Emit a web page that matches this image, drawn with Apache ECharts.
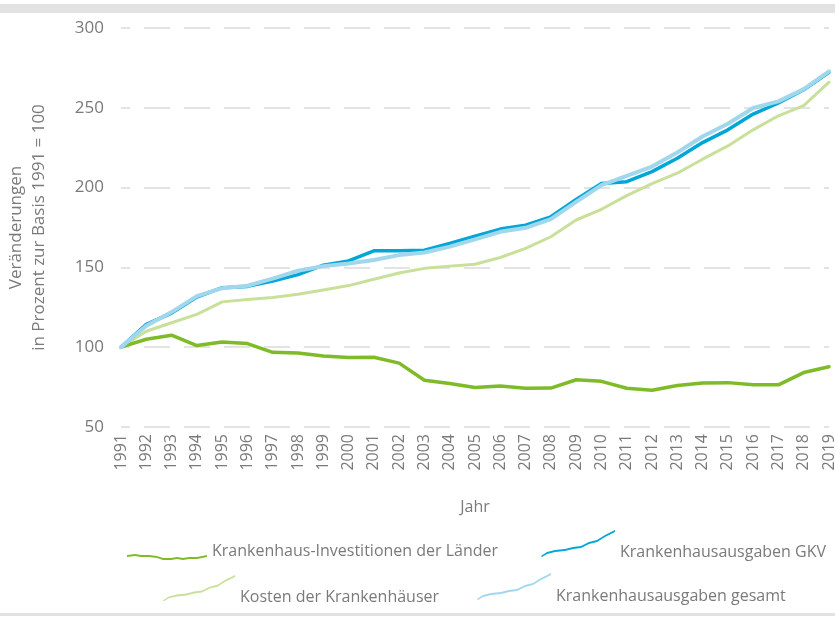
<!DOCTYPE html>
<html>
<head>
<meta charset="utf-8">
<title>Krankenhausausgaben</title>
<script src="https://cdn.jsdelivr.net/npm/echarts@6/dist/echarts.min.js"></script>
<style>
  html, body { margin: 0; padding: 0; background: #fff; }
  #main { width: 835px; height: 618px; }
</style>
</head>
<body>
<div id="main"></div>
<script type="text/javascript">
// Jahre
var years = ["1991", "1992", "1993", "1994", "1995", "1996", "1997", "1998", "1999", "2000",
  "2001", "2002", "2003", "2004", "2005", "2006", "2007", "2008", "2009", "2010",
  "2011", "2012", "2013", "2014", "2015", "2016", "2017", "2018", "2019"];

// Index 1991 = 100
var investitionen = [100, 105, 107.5, 101, 103.3, 102.3, 96.8, 96.3, 94.5, 93.5,
  93.7, 90, 79.3, 77.3, 74.8, 75.7, 74.3, 74.4, 79.6, 78.6,
  74.3, 73, 76, 77.6, 77.8, 76.4, 76.4, 84.1, 87.8];
var ausgabenGKV = [100, 114.3, 121.4, 131.4, 137.3, 138.1, 141.5, 145.5, 151.4, 154.1,
  160.4, 160.5, 160.8, 165, 169.6, 174, 176.4, 181.7, 192.6, 202.6,
  203.7, 210, 218.4, 228.2, 236.2, 246.1, 253, 261.3, 272.2];
var kosten = [100, 110, 115.3, 120.6, 128.4, 129.9, 131.2, 133.2, 135.9, 138.6,
  142.6, 146.5, 149.4, 150.8, 152, 156.2, 161.9, 169.2, 179.7, 186.4,
  195, 202.5, 209, 217.8, 226.1, 236.2, 245, 251.4, 266.1];
var ausgabenGesamt = [100, 113.5, 122, 132, 137, 138.5, 143, 147.9, 150.8, 152.5,
  154.6, 157.7, 159.3, 163, 167.6, 172.3, 174.8, 180.2, 191, 201.6,
  207.3, 213.2, 222, 232, 240, 249.9, 254, 261.7, 272.8];

var names = ["Krankenhaus-Investitionen der Länder", "Krankenhausausgaben GKV",
  "Kosten der Krankenhäuser", "Krankenhausausgaben gesamt"];
var colors = ["#7fbb28", "#00a6d6", "#c9e09b", "#a0d7ed"];

var textColor = "#7a7a7a";
var font = "Open Sans";

// kleine "Kritzel"-Icons fuer die Legende
// flache Linie; Punkt oben, damit die Linie etwas unter dem Text sitzt
var flatIcon = "path://M0,12 L8,11 L14,12 L22,12 L30,13 L36,15 L44,15 L50,14 L56,15 L62,14 L70,14 L80,12 L80,14 L70,16 L62,16 L56,17 L50,16 L44,17 L36,17 L30,15 L22,14 L14,14 L8,13 L0,14 Z" +
  " M79.95,0 L80,0 L80,0.05 Z";
// steigende Linie; der winzige Punkt unten sorgt dafuer, dass der Text tiefer sitzt
function riseIcon(h) {
  return "path://M0,26 L6,22 L14,20 L24,19 L32,17 L40,16 L48,12 L56,10 L64,5 L74,0 L74,2 L64,7 L56,12 L48,14 L40,18 L32,19 L24,21 L14,22 L6,24 L1,27 Z" +
    " M73.95," + h + " L74," + h + " L74," + (h - 0.05) + " Z";
}

function legendItem(name, icon, left, top, w, h) {
  return {
    data: [{ name: name, icon: icon }],
    left: left,
    top: top,
    padding: 0,
    itemWidth: w,
    itemHeight: h,
    selectedMode: false,
    textStyle: { color: textColor, fontFamily: font, fontSize: 16 }
  };
}

function lineSeries(name, data, color, width) {
  return {
    name: name,
    type: "line",
    data: data,
    symbol: "none",
    color: color,
    lineStyle: { color: color, width: width, cap: "round", join: "round" },
    itemStyle: { color: color }
  };
}

var chart = echarts.init(document.getElementById("main"));
var option = {
  backgroundColor: "#fff",
  animation: false,
  textStyle: { fontFamily: font },
  grid: { left: 121, right: 6, top: 28, bottom: 191, outerBoundsMode: "none", containLabel: false },
  graphic: [
    { type: "rect", shape: { x: 0, y: 4, width: 835, height: 9 }, style: { fill: "#e2e2e2" } },
    { type: "rect", shape: { x: 0, y: 613, width: 835, height: 3 }, style: { fill: "#e2e2e2" } }
  ],
  legend: [
    legendItem(names[0], flatIcon, 127, 543, 80, 17),
    legendItem(names[1], riseIcon(44), 541, 530, 74, 44),
    legendItem(names[2], riseIcon(46), 163, 575, 72, 46),
    legendItem(names[3], riseIcon(46), 477, 573, 74, 46)
  ],
  xAxis: {
    type: "category",
    data: years,
    boundaryGap: false,
    name: "Jahr",
    nameLocation: "middle",
    nameGap: 72,
    nameTextStyle: { color: textColor, fontFamily: font, fontSize: 16 },
    axisLine: { show: false },
    axisTick: { show: false },
    axisLabel: { rotate: 90, interval: 0, margin: 7, color: textColor, fontFamily: font, fontSize: 16 }
  },
  yAxis: {
    type: "value",
    min: 50,
    max: 300,
    interval: 50,
    name: "Veränderungen\nin Prozent zur Basis 1991 = 100",
    nameLocation: "middle",
    nameGap: 70,
    nameTextStyle: { color: textColor, fontFamily: font, fontSize: 17, lineHeight: 23 },
    axisLine: { show: false },
    axisTick: { show: false },
    axisLabel: { margin: 17, color: textColor, fontFamily: font, fontSize: 17 },
    splitLine: {
      lineStyle: { color: "#e3e3e3", width: 2, type: [26, 14], dashOffset: 17 }
    }
  },
  series: [
    lineSeries(names[2], kosten, colors[2], 3),
    lineSeries(names[0], investitionen, colors[0], 3.5),
    lineSeries(names[1], ausgabenGKV, colors[1], 3.5),
    lineSeries(names[3], ausgabenGesamt, colors[3], 4)
  ]
};
chart.setOption(option);
</script>
</body>
</html>
